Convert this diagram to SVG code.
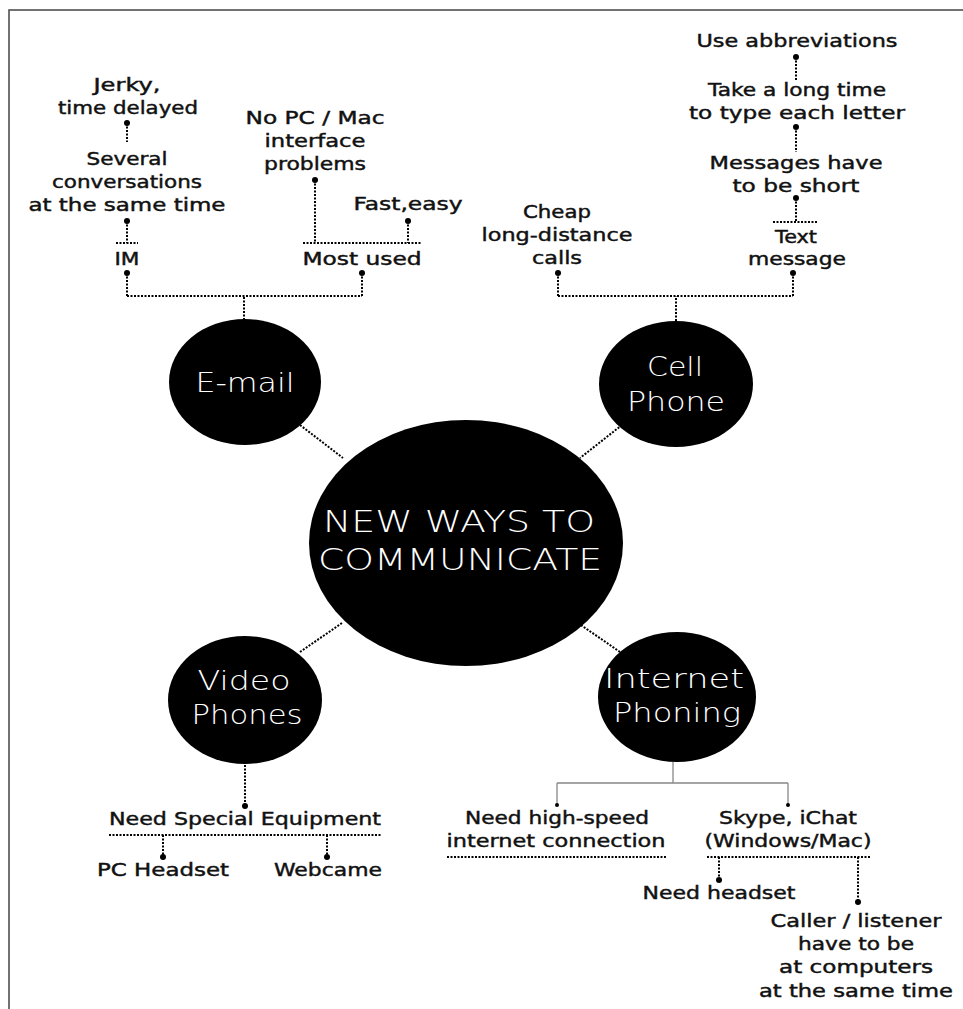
<svg xmlns="http://www.w3.org/2000/svg" width="963" height="1009" viewBox="0 0 963 1009">
<style>
.lbl{font-family:"DejaVu Sans","Liberation Sans",sans-serif;font-size:18px;fill:#111;stroke:#111;stroke-width:0.45;text-anchor:middle}
.wht{font-family:"DejaVu Sans","Liberation Sans",sans-serif;fill:#fff;text-anchor:middle;font-weight:200}
.node{fill:#000}
.dot{fill:#000}
.dl{stroke:#000;stroke-width:2;stroke-dasharray:2 1.5;fill:none}
.sl{stroke:#888;stroke-width:1.3;fill:none}
</style>
<rect width="963" height="1009" fill="#fff"/>
<path d="M9,1009 V10 H963" fill="none" stroke="#444" stroke-width="1.5"/>

<g id="connectors">
  <path class="dl" d="M300,425 L343,458"/>
  <path class="dl" d="M622,425 L580,458"/>
  <path class="dl" d="M300,652 L342,623"/>
  <path class="dl" d="M578,623 L620,652"/>
  <path class="dl" d="M244,320 V296 M127,296 H362 M127,273 V296 M362,273 V296"/>
  <path class="dl" d="M127,123 V142 M127,221 V243 M116,243 H138"/>
  <path class="dl" d="M315,180 V243 M408,221 V243 M303,243 H422"/>
  <circle class="dot" cx="127" cy="123" r="3"/>
  <circle class="dot" cx="127" cy="221" r="3"/>
  <circle class="dot" cx="127" cy="273" r="3"/>
  <circle class="dot" cx="362" cy="273" r="3"/>
  <circle class="dot" cx="315" cy="180" r="3"/>
  <circle class="dot" cx="408" cy="221" r="3"/>
  <path class="dl" d="M676,321 V296 M558,296 H793 M558,273 V296 M793,273 V296"/>
  <path class="dl" d="M796,57 V80 M796,127 V152 M796,198 V222 M773,222 H818"/>
  <circle class="dot" cx="796" cy="57" r="3"/>
  <circle class="dot" cx="796" cy="127" r="3"/>
  <circle class="dot" cx="796" cy="198" r="3"/>
  <circle class="dot" cx="558" cy="273" r="3"/>
  <circle class="dot" cx="793" cy="273" r="3"/>
  <path class="dl" d="M245,765 V806 M109,835 H382 M163,835 V857 M327,835 V857"/>
  <circle class="dot" cx="245" cy="806" r="3"/>
  <circle class="dot" cx="163" cy="857" r="3"/>
  <circle class="dot" cx="327" cy="857" r="3"/>
  <path class="sl" d="M673,762 V783 M557,783 H788 M557,783 V805 M788,783 V805"/>
  <circle class="dot" cx="557" cy="805" r="2"/>
  <circle class="dot" cx="788" cy="805" r="2"/>
  <path class="dl" d="M447,857 H666 M707,857 H871 M719,857 V880 M858,857 V902"/>
  <circle class="dot" cx="719" cy="880" r="3"/>
  <circle class="dot" cx="858" cy="902" r="3"/>
</g>

<g id="center">
  <ellipse class="node" cx="466" cy="543" rx="157" ry="123"/>
  <text class="wht" x="459" y="532" font-size="30" textLength="272" lengthAdjust="spacingAndGlyphs">NEW WAYS TO</text>
  <text class="wht" x="460" y="570" font-size="30" textLength="284" lengthAdjust="spacingAndGlyphs">COMMUNICATE</text>
</g>
<g id="email">
  <ellipse class="node" cx="245" cy="382" rx="76" ry="63"/>
  <text class="wht" x="245" y="392" font-size="27" textLength="99" lengthAdjust="spacingAndGlyphs">E-mail</text>
</g>
<g id="cellphone">
  <ellipse class="node" cx="676" cy="384" rx="77" ry="63"/>
  <text class="wht" x="675" y="376" font-size="27" textLength="56" lengthAdjust="spacingAndGlyphs">Cell</text>
  <text class="wht" x="676" y="411" font-size="27" textLength="98" lengthAdjust="spacingAndGlyphs">Phone</text>
</g>
<g id="videophones">
  <ellipse class="node" cx="245" cy="700" rx="77" ry="64"/>
  <text class="wht" x="244" y="690" font-size="27" textLength="93" lengthAdjust="spacingAndGlyphs">Video</text>
  <text class="wht" x="247" y="724" font-size="27" textLength="111" lengthAdjust="spacingAndGlyphs">Phones</text>
</g>
<g id="internetphoning">
  <ellipse class="node" cx="677" cy="697" rx="79" ry="65"/>
  <text class="wht" x="674" y="688" font-size="27" textLength="140" lengthAdjust="spacingAndGlyphs">Internet</text>
  <text class="wht" x="677" y="722" font-size="27" textLength="128" lengthAdjust="spacingAndGlyphs">Phoning</text>
</g>

<g id="email-labels">
  <text class="lbl" x="127" y="91" textLength="67" lengthAdjust="spacingAndGlyphs">Jerky,</text>
  <text class="lbl" x="128" y="114" textLength="140" lengthAdjust="spacingAndGlyphs">time delayed</text>
  <text class="lbl" x="127" y="165" textLength="81" lengthAdjust="spacingAndGlyphs">Several</text>
  <text class="lbl" x="127" y="188" textLength="150" lengthAdjust="spacingAndGlyphs">conversations</text>
  <text class="lbl" x="127" y="211" textLength="197" lengthAdjust="spacingAndGlyphs">at the same time</text>
  <text class="lbl" x="127" y="265" textLength="25" lengthAdjust="spacingAndGlyphs">IM</text>
  <text class="lbl" x="315" y="124" textLength="139" lengthAdjust="spacingAndGlyphs">No PC / Mac</text>
  <text class="lbl" x="315" y="147" textLength="101" lengthAdjust="spacingAndGlyphs">interface</text>
  <text class="lbl" x="315" y="170" textLength="102" lengthAdjust="spacingAndGlyphs">problems</text>
  <text class="lbl" x="408" y="210" textLength="109" lengthAdjust="spacingAndGlyphs">Fast,easy</text>
  <text class="lbl" x="362" y="265" textLength="119" lengthAdjust="spacingAndGlyphs">Most used</text>
</g>
<g id="cell-labels">
  <text class="lbl" x="797" y="47" textLength="201" lengthAdjust="spacingAndGlyphs">Use abbreviations</text>
  <text class="lbl" x="797" y="96" textLength="178" lengthAdjust="spacingAndGlyphs">Take a long time</text>
  <text class="lbl" x="797" y="119" textLength="216" lengthAdjust="spacingAndGlyphs">to type each letter</text>
  <text class="lbl" x="796" y="169" textLength="173" lengthAdjust="spacingAndGlyphs">Messages have</text>
  <text class="lbl" x="796" y="192" textLength="127" lengthAdjust="spacingAndGlyphs">to be short</text>
  <text class="lbl" x="796" y="243" textLength="42" lengthAdjust="spacingAndGlyphs">Text</text>
  <text class="lbl" x="797" y="265" textLength="98" lengthAdjust="spacingAndGlyphs">message</text>
  <text class="lbl" x="557" y="218" textLength="68" lengthAdjust="spacingAndGlyphs">Cheap</text>
  <text class="lbl" x="557" y="241" textLength="151" lengthAdjust="spacingAndGlyphs">long-distance</text>
  <text class="lbl" x="557" y="264" textLength="50" lengthAdjust="spacingAndGlyphs">calls</text>
</g>
<g id="video-labels">
  <text class="lbl" x="245" y="825" textLength="272" lengthAdjust="spacingAndGlyphs">Need Special Equipment</text>
  <text class="lbl" x="163" y="876" textLength="132" lengthAdjust="spacingAndGlyphs">PC Headset</text>
  <text class="lbl" x="328" y="876" textLength="108" lengthAdjust="spacingAndGlyphs">Webcame</text>
</g>
<g id="internet-labels">
  <text class="lbl" x="557" y="824" textLength="184" lengthAdjust="spacingAndGlyphs">Need high-speed</text>
  <text class="lbl" x="556" y="847" textLength="219" lengthAdjust="spacingAndGlyphs">internet connection</text>
  <text class="lbl" x="788" y="824" textLength="138" lengthAdjust="spacingAndGlyphs">Skype, iChat</text>
  <text class="lbl" x="788" y="847" textLength="167" lengthAdjust="spacingAndGlyphs">(Windows/Mac)</text>
  <text class="lbl" x="719" y="899" textLength="153" lengthAdjust="spacingAndGlyphs">Need headset</text>
  <text class="lbl" x="856" y="927" textLength="171" lengthAdjust="spacingAndGlyphs">Caller / listener</text>
  <text class="lbl" x="856" y="950" textLength="116" lengthAdjust="spacingAndGlyphs">have to be</text>
  <text class="lbl" x="856" y="973" textLength="154" lengthAdjust="spacingAndGlyphs">at computers</text>
  <text class="lbl" x="856" y="997" textLength="194" lengthAdjust="spacingAndGlyphs">at the same time</text>
</g>
</svg>
